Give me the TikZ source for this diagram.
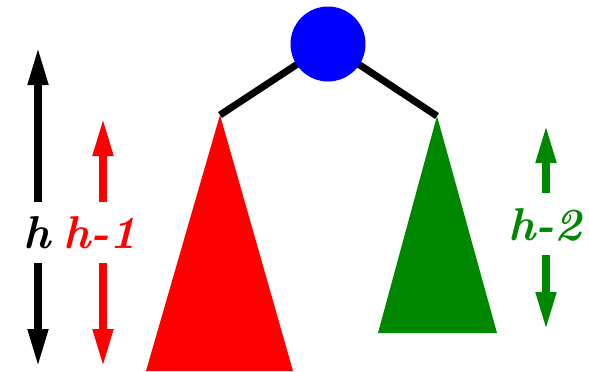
\documentclass[tikz,border=0pt]{standalone}
\usetikzlibrary{arrows.meta}
\definecolor{gr}{RGB}{0,135,0}
\tikzset{
  dimarrow/.style={line width=7.5pt,-{Triangle[length=38pt,width=19pt]}},
  lbl/.style={font=\fontsize{46}{46}\selectfont\bfseries\itshape,inner sep=0pt},
  edge/.style={line width=7pt}
}
\begin{document}
\begin{tikzpicture}[x=1pt,y=-1pt]
\useasboundingbox (0,0) rectangle (589,372);
% subtrees
\coordinate (la) at (220,115);
\coordinate (ra) at (437,116);
\fill[red] (la) -- (293,371) -- (146,371) -- cycle;
\fill[gr] (ra) -- (497,333) -- (378,333) -- cycle;
% edges and root
\draw[edge] (328,44) -- (la);
\draw[edge] (328,44) -- (ra);
\node[circle,fill=blue,minimum size=75pt,inner sep=0pt] (root) at (328,44) {};
% labels
\node[lbl,text=black] (h) at (37,233) {h};
\node[lbl,text=red] (h1) at (100,233) {h-1};
\node[lbl,text=gr] (h2) at (545,225) {h-2};
% arrows
\coordinate (bt) at (38,202); \coordinate (btt) at (38,47);
\coordinate (bb) at (38,263); \coordinate (bbb) at (38,367);
\draw[dimarrow,black] (bt) -- (btt);
\draw[dimarrow,black] (bb) -- (bbb);
\coordinate (rt) at (103,202); \coordinate (rtt) at (103,118);
\coordinate (rb) at (103,263); \coordinate (rbb) at (103,367);
\draw[dimarrow,red] (rt) -- (rtt);
\draw[dimarrow,red] (rb) -- (rbb);
\coordinate (gt) at (546,193); \coordinate (gtt) at (546,125);
\coordinate (gb) at (546,255); \coordinate (gbb) at (546,330);
\draw[dimarrow,gr] (gt) -- (gtt);
\draw[dimarrow,gr] (gb) -- (gbb);
\end{tikzpicture}
\end{document}
